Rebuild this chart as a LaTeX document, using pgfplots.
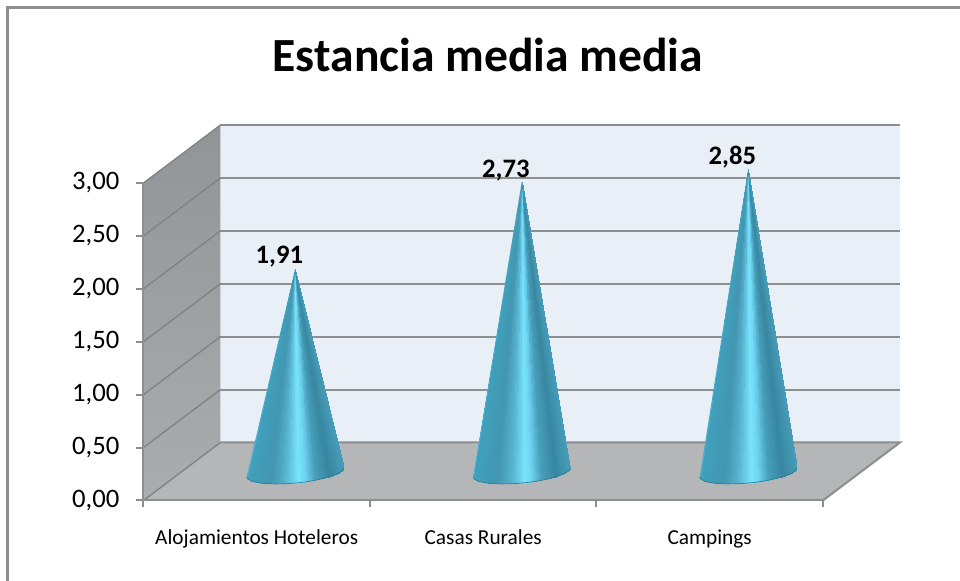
\documentclass[border=0pt]{standalone}
\usepackage{fontspec}
\setmainfont{Carlito}
\usepackage{pgfplots}
\pgfplotsset{compat=1.18}
\definecolor{wallback}{RGB}{232,239,246}
\definecolor{wallside}{RGB}{155,158,160}
\definecolor{wallfloor}{RGB}{180,182,184}
\definecolor{gridgray}{RGB}{140,142,143}
\definecolor{griddark}{RGB}{128,130,130}
\definecolor{conedge}{RGB}{44,126,150}
\definecolor{conemid}{RGB}{70,160,188}

% one slice of a cone: base point, its meta, next base point, its meta, apex meta
\newcommand{\T}[7]{(#1,#2)[#3] (#4,#5)[#6] (0,\coneval)[#7] }
\newcommand{\conearc}{(-0.214,-0.057) (-0.210,-0.076) (-0.193,-0.096) (-0.171,-0.108)
    (-0.150,-0.115) (-0.128,-0.120) (-0.107,-0.122) (-0.086,-0.123) (-0.064,-0.122)
    (-0.043,-0.121) (-0.021,-0.118) (0,-0.114) (0.021,-0.110) (0.043,-0.104) (0.064,-0.097)
    (0.086,-0.089) (0.107,-0.080) (0.128,-0.069) (0.150,-0.056) (0.171,-0.040)
    (0.193,-0.020) (0.210,0.008) (0.214,0.028)}
% one cone: #1 category, #2 value; base arc is relative to the cone centre
\newcommand{\cone}[2]{%
\def\coneval{#2}%
\addplot[draw=none, fill=conemid,
    x filter/.expression={x+#1+0.17}, y filter/.expression={y+0.279}]
coordinates {\conearc (0,#2)} -- cycle;
\addplot[patch, patch type=triangle, shader=interp, point meta=explicit,
    x filter/.expression={x+#1+0.17}, y filter/.expression={y+0.279}]
coordinates {
\T{-0.214}{-0.057}{0}{-0.210}{-0.076}{0.01}{0.005}
\T{-0.210}{-0.076}{0.01}{-0.193}{-0.096}{0.05}{0.03}
\T{-0.193}{-0.096}{0.05}{-0.171}{-0.108}{0.10}{0.075}
\T{-0.171}{-0.108}{0.10}{-0.150}{-0.115}{0.15}{0.125}
\T{-0.150}{-0.115}{0.15}{-0.128}{-0.120}{0.20}{0.175}
\T{-0.128}{-0.120}{0.20}{-0.107}{-0.122}{0.25}{0.225}
\T{-0.107}{-0.122}{0.25}{-0.086}{-0.123}{0.30}{0.275}
\T{-0.086}{-0.123}{0.30}{-0.064}{-0.122}{0.35}{0.325}
\T{-0.064}{-0.122}{0.35}{-0.043}{-0.121}{0.40}{0.375}
\T{-0.043}{-0.121}{0.40}{-0.021}{-0.118}{0.45}{0.425}
\T{-0.021}{-0.118}{0.45}{0}{-0.114}{0.50}{0.475}
\T{0}{-0.114}{0.50}{0.021}{-0.110}{0.55}{0.525}
\T{0.021}{-0.110}{0.55}{0.043}{-0.104}{0.60}{0.575}
\T{0.043}{-0.104}{0.60}{0.064}{-0.097}{0.65}{0.625}
\T{0.064}{-0.097}{0.65}{0.086}{-0.089}{0.70}{0.675}
\T{0.086}{-0.089}{0.70}{0.107}{-0.080}{0.75}{0.725}
\T{0.107}{-0.080}{0.75}{0.128}{-0.069}{0.80}{0.775}
\T{0.128}{-0.069}{0.80}{0.150}{-0.056}{0.85}{0.825}
\T{0.150}{-0.056}{0.85}{0.171}{-0.040}{0.90}{0.875}
\T{0.171}{-0.040}{0.90}{0.193}{-0.020}{0.95}{0.925}
\T{0.193}{-0.020}{0.95}{0.210}{0.008}{0.99}{0.97}
\T{0.210}{0.008}{0.99}{0.214}{0.028}{1}{0.995}
};
\addplot[conedge, line width=0.5pt, mark=none,
    x filter/.expression={x+#1+0.17}, y filter/.expression={y+0.279}]
coordinates {\conearc};
}

\begin{document}
\begin{tikzpicture}[x=1pt,y=1pt]
% page is 960x581 px at 0.75pt per px
\path[use as bounding box] (0,0) rectangle (720,435.75);
\draw[gridgray, line width=1.8pt] (5.5,-2) -- (5.5,430.2) -- (722,430.2);

\begin{axis}[
    at={(107.6pt,60.4pt)}, anchor=south west,
    scale only axis,
    width=509.6pt, height=238.1pt,
    xmin=-0.5, xmax=2.5, ymin=0, ymax=3,
    clip=false,
    axis on top,
    axis x line*=bottom, axis y line*=left,
    axis line style={-, gridgray, line width=1.5pt},
    xtick={0,1,2},
    xticklabels={Alojamientos Hoteleros, Casas Rurales, Campings},
    minor xtick={-0.5,0.5,1.5,2.5},
    ytick={0,0.5,1,1.5,2,2.5,3},
    tick style={gridgray, line width=1.5pt},
    tick align=outside,
    major tick length=5.5pt,
    minor tick length=5pt,
    xtick style={draw=none},
    minor x tick style={gridgray, line width=1.5pt, draw=gridgray},
    x tick label style={font=\fontsize{16}{19}\selectfont, yshift=-13pt},
    y tick label style={font=\fontsize{20}{24}\selectfont, xshift=-9pt},
    /pgf/number format/assume math mode=true,
    yticklabel style={/pgf/number format/.cd, fixed, fixed zerofill, precision=2, use comma},
    title={Estancia media media},
    title style={font=\fontsize{35.7}{42}\selectfont\bfseries, at={(axis description cs:0.5,1)}, anchor=base, yshift=77.5pt, xshift=3.5pt},
    colormap={conegrad}{
        rgb255(0)=(78,176,204)
        rgb255(1)=(64,160,188)
        rgb255(25)=(66,150,176)
        rgb255(40)=(88,180,208)
        rgb255(53)=(120,228,252)
        rgb255(60)=(110,212,240)
        rgb255(70)=(72,160,188)
        rgb255(85)=(56,134,160)
        rgb255(100)=(70,156,184)
    },
    point meta min=0, point meta max=1,
]

% walls and floor
\addplot[draw=none, fill=wallback] coordinates {(-0.16,0.548) (2.84,0.548) (2.84,3.548) (-0.16,3.548)} -- cycle;
\addplot[draw=none, bottom color=wallside!85!white, top color=wallside!94!black] coordinates {(-0.5,0) (-0.16,0.548) (-0.16,3.548) (-0.5,3)} -- cycle;
\addplot[draw=none, fill=wallfloor] coordinates {(-0.5,0) (-0.16,0.548) (2.84,0.548) (2.5,0)} -- cycle;

% grid lines on the back wall and floor edge
\addplot[gridgray, line width=1.5pt, mark=none] coordinates {(-0.16,0.548) (2.84,0.548) (2.5,0)};
\addplot[gridgray, line width=1.5pt, mark=none] coordinates {(-0.16,1.048) (2.84,1.048)};
\addplot[gridgray, line width=1.5pt, mark=none] coordinates {(-0.16,1.548) (2.84,1.548)};
\addplot[gridgray, line width=1.5pt, mark=none] coordinates {(-0.16,2.048) (2.84,2.048)};
\addplot[gridgray, line width=1.5pt, mark=none] coordinates {(-0.16,2.548) (2.84,2.548)};
\addplot[gridgray, line width=1.5pt, mark=none] coordinates {(-0.16,3.048) (2.84,3.048)};
\addplot[gridgray, line width=1.5pt, mark=none] coordinates {(-0.16,3.548) (2.84,3.548)};
% and on the side wall
\addplot[griddark, line width=1pt, mark=none] coordinates {(-0.5,0) (-0.16,0.548)};
\addplot[griddark, line width=1pt, mark=none] coordinates {(-0.5,0.5) (-0.16,1.048)};
\addplot[griddark, line width=1pt, mark=none] coordinates {(-0.5,1) (-0.16,1.548)};
\addplot[griddark, line width=1pt, mark=none] coordinates {(-0.5,1.5) (-0.16,2.048)};
\addplot[griddark, line width=1pt, mark=none] coordinates {(-0.5,2) (-0.16,2.548)};
\addplot[griddark, line width=1pt, mark=none] coordinates {(-0.5,2.5) (-0.16,3.048)};
\addplot[griddark, line width=1pt, mark=none] coordinates {(-0.5,3) (-0.16,3.548)};

% cones
\cone{0}{1.91}
\cone{1}{2.73}
\cone{2}{2.85}

% value labels
\addplot[only marks, mark=none,
    nodes near coords,
    point meta=y,
    nodes near coords style={font=\fontsize{20}{24}\selectfont\bfseries, anchor=center, xshift=17pt, yshift=31pt,
        /pgf/number format/.cd, fixed, fixed zerofill, precision=2, use comma, assume math mode=true},
] coordinates {(0,1.91) (1,2.73) (2,2.85)};
\end{axis}
\end{tikzpicture}
\end{document}
